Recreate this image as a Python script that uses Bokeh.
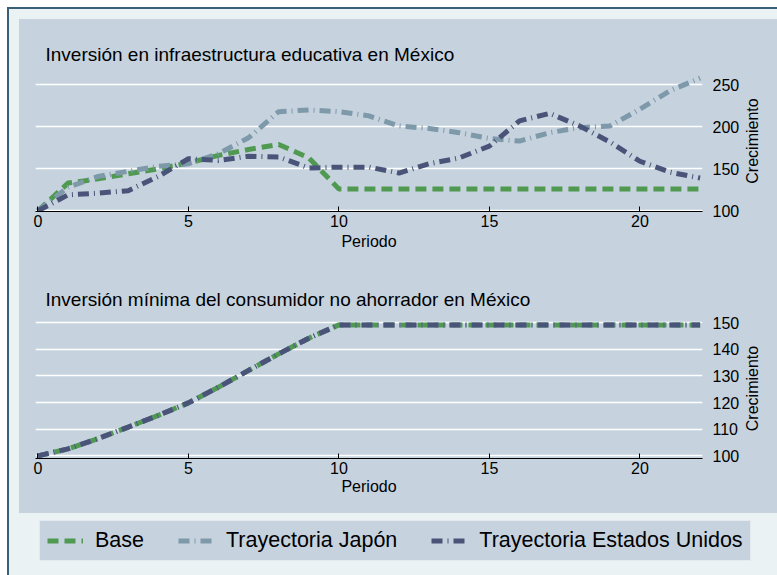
import math
from bokeh.plotting import figure
from bokeh.layouts import column, row
from bokeh.models import Range1d, FixedTicker, Legend, LegendItem, Spacer, Label
from bokeh.embed import file_html
from bokeh.resources import INLINE

# ---------------- data ----------------
periodo = list(range(0, 23))

# Inversión en infraestructura educativa en México
infra_base = [100, 133, 138, 144, 150, 157, 166, 173, 179, 163, 126, 126,
              126, 126, 126, 126, 126, 126, 126, 126, 126, 126, 126]
infra_japon = [100, 128, 141, 147, 153, 156, 168, 187, 218, 220, 218, 213,
               201, 198, 193, 186, 183, 193, 199, 201, 221, 243, 258]
infra_eu = [100, 119, 121, 124, 141, 162, 160, 165, 164, 151, 152, 152,
            145, 156, 163, 177, 207, 216, 201, 182, 159, 146, 139]

# Inversión mínima del consumidor no ahorrador en México
cons_base = [100, 102.6, 106.5, 110.8, 115.2, 119.9, 125.8, 132.1, 138.3, 144.2, 149.2, 149.2,
             149.2, 149.2, 149.2, 149.2, 149.2, 149.2, 149.2, 149.2, 149.2, 149.2, 149.2]
cons_japon = list(cons_base)
cons_eu = list(cons_base)

x_ticks = [0, 5, 10, 15, 20]
y_ticks_top = [100, 150, 200, 250]
y_ticks_bottom = [100, 110, 120, 130, 140, 150]

series_names = ["Base", "Trayectoria Japón", "Trayectoria Estados Unidos"]
title_top = "Inversión en infraestructura educativa en México"
title_bottom = "Inversión mínima del consumidor no ahorrador en México"
x_label = "Periodo"
y_label = "Crecimiento"

# ---------------- style ----------------
BG = "#C6D3DF"
LIGHT = "#EAF2F3"
FRAME = "#3A6079"
GREEN = "#4F9A50"
JAPAN = "#7E99A9"
USA = "#4A5479"
FONT = "Liberation Sans"
DASH = "11 6"
DASHDOT = "11 5 1 5"
LW = 5
W = 758        # width of the bluish region
WL = 35        # width of the strip holding the y-axis title
WM = W - WL    # width of the plot figure


def make_panel(title, ys, y_range, y_ticks, height, b_top, b_bottom, t_standoff, xl_standoff):
    p = figure(width=WM, height=height, x_range=Range1d(-0.08, 22.08), y_range=y_range,
               y_axis_location="right", output_backend="svg", toolbar_location=None,
               min_border_left=16, min_border_right=WM - 16 - 669,
               min_border_top=b_top, min_border_bottom=b_bottom)
    p.background_fill_color = BG
    p.border_fill_color = BG
    p.outline_line_color = None
    p.title.text = title
    p.title.text_font = FONT
    p.title.text_font_size = "19px"
    p.title.text_font_style = "normal"
    p.title.text_color = "black"
    p.title.align = "left"
    p.title.offset = 10
    p.title.standoff = t_standoff

    p.xgrid.grid_line_color = None
    p.ygrid.grid_line_color = "white"
    p.ygrid.grid_line_width = 1.5

    xa = p.xaxis[0]
    xa.ticker = FixedTicker(ticks=x_ticks)
    xa.axis_line_color = "black"
    xa.axis_line_width = 1.2
    xa.major_tick_in = 5
    xa.major_tick_out = 0
    xa.major_tick_line_color = "black"
    xa.minor_tick_line_color = None
    xa.major_label_text_font = FONT
    xa.major_label_text_font_size = "16px"
    xa.major_label_text_color = "black"
    xa.major_label_standoff = 3
    xa.axis_label = x_label
    xa.axis_label_text_font = FONT
    xa.axis_label_text_font_size = "16px"
    xa.axis_label_text_font_style = "normal"
    xa.axis_label_text_color = "black"
    xa.axis_label_standoff = xl_standoff

    ya = p.yaxis[0]
    ya.ticker = FixedTicker(ticks=y_ticks)
    ya.axis_line_color = None
    ya.major_tick_line_color = None
    ya.minor_tick_line_color = None
    ya.major_label_text_font = FONT
    ya.major_label_text_font_size = "16px"
    ya.major_label_text_color = "black"
    ya.major_label_standoff = 4

    yb, yj, yu = ys
    p.line(periodo, yb, line_color=GREEN, line_width=LW, line_dash=DASH)
    p.line(periodo, yj, line_color=JAPAN, line_width=LW, line_dash=DASHDOT)
    p.line(periodo, yu, line_color=USA, line_width=LW, line_dash=DASHDOT)

    # strip with the y-axis title, reading bottom to top
    q = figure(width=WL, height=height, x_range=Range1d(0, WL), y_range=Range1d(0, 1),
               x_axis_type=None, y_axis_type=None, output_backend="svg",
               toolbar_location=None, min_border_left=0, min_border_right=0,
               min_border_top=b_top, min_border_bottom=b_bottom)
    q.background_fill_color = BG
    q.border_fill_color = BG
    q.outline_line_color = None
    q.xgrid.grid_line_color = None
    q.ygrid.grid_line_color = None
    q.add_layout(Label(x=10, y=0.5, text=y_label, angle=math.pi / 2,
                       text_align="center", text_baseline="middle",
                       text_font=FONT, text_font_size="16px", text_color="black"))
    return row(p, q)


panel1 = make_panel(title_top, (infra_base, infra_japon, infra_eu),
                    Range1d(99.2, 267), y_ticks_top, 249, 51, 57, 12, 3)
panel2 = make_panel(title_bottom, (cons_base, cons_japon, cons_eu),
                    Range1d(99.0, 151.6), y_ticks_bottom, 245, 50, 55, 17, 1)

# legend strip (series drawn outside its visible range; only the legend shows)
p3 = figure(width=W, height=62, x_range=Range1d(-100, -99), y_range=Range1d(-100, -99),
            x_axis_type=None, y_axis_type=None, output_backend="svg",
            toolbar_location=None, min_border=0)
p3.background_fill_color = LIGHT
p3.border_fill_color = LIGHT
p3.outline_line_color = None
p3.xgrid.grid_line_color = None
p3.ygrid.grid_line_color = None
rb = p3.line(periodo, infra_base, line_color=GREEN, line_width=LW, line_dash=DASH)
rj = p3.line(periodo, infra_japon, line_color=JAPAN, line_width=LW, line_dash=DASHDOT)
ru = p3.line(periodo, infra_eu, line_color=USA, line_width=LW, line_dash=DASHDOT)
legend = Legend(items=[LegendItem(label=series_names[0], renderers=[rb]),
                       LegendItem(label=series_names[1], renderers=[rj]),
                       LegendItem(label=series_names[2], renderers=[ru])],
                location=(20, 14), orientation="horizontal")
legend.label_text_font = FONT
legend.label_text_font_size = "21.5px"
legend.label_text_color = "black"
legend.label_standoff = 12
legend.label_height = 21
legend.glyph_width = 36
legend.glyph_height = 21
legend.spacing = 34
legend.padding = 7
legend.margin = 0
legend.background_fill_color = BG
legend.background_fill_alpha = 1
legend.border_line_color = "white"
legend.border_line_width = 1
p3.add_layout(legend, "center")

plots = column(panel1, panel2, styles={"background-color": BG})
inner = column(plots, row(p3, styles={"background-color": LIGHT}),
               styles={"background-color": LIGHT})
light_block = column(
    Spacer(width=W + 10, height=10, styles={"background-color": LIGHT}),
    row(Spacer(width=10, height=556, styles={"background-color": LIGHT}), inner,
        styles={"background-color": LIGHT}),
    styles={"background-color": LIGHT},
)
frame_block = row(Spacer(width=2, height=566, styles={"background-color": FRAME}), light_block)
layout = column(Spacer(width=W + 12, height=2, styles={"background-color": FRAME}),
                frame_block, margin=(7, 0, 0, 7))

open("out.html", "w").write(file_html(layout, INLINE))
